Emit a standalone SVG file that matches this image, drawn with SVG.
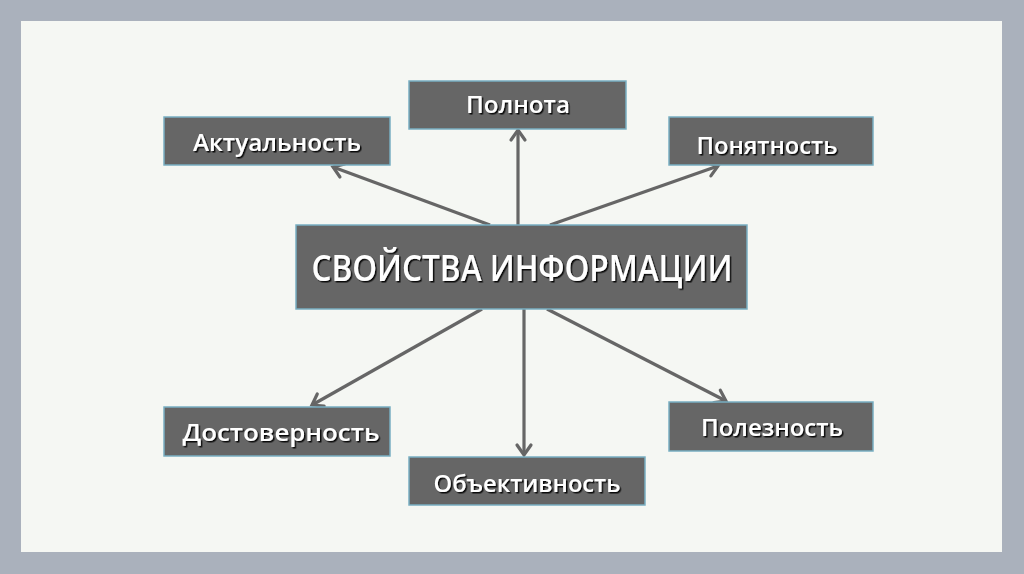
<svg xmlns="http://www.w3.org/2000/svg" width="1024" height="574" viewBox="0 0 1024 574">
  <defs>
    <style>
      .box { fill: #666666; stroke: #78afc2; stroke-width: 1.5; }
      .lbl { font-family: "Open Sans", "DejaVu Sans", sans-serif; font-weight: 600; fill: #ffffff; text-anchor: middle; filter: url(#shadow); }
      .small { font-size: 24px; }
      .big { font-size: 36px; }
      .conn { stroke: #666666; stroke-width: 3.2; fill: none; marker-end: url(#arrow); }
    </style>
    <filter id="shadow" x="-10%" y="-30%" width="120%" height="160%">
      <feDropShadow dx="1.5" dy="1.5" stdDeviation="0.6" flood-color="#000000" flood-opacity="0.9"/>
    </filter>
    <marker id="arrow" markerUnits="userSpaceOnUse" markerWidth="20" markerHeight="20" viewBox="0 0 20 20" refX="16" refY="10" orient="auto">
      <path d="M6,3 L16,10 L6,17" fill="none" stroke="#666666" stroke-width="3.2" stroke-linecap="round" stroke-linejoin="miter"/>
    </marker>
  </defs>

  <rect x="0" y="0" width="1024" height="574" fill="#aab1bc"/>
  <rect x="21" y="21" width="981" height="531" fill="#f5f7f3"/>

  <g id="connectors">
    <line class="conn" x1="518" y1="225" x2="518" y2="130"/>
    <line class="conn" x1="490" y1="225" x2="333" y2="167"/>
    <line class="conn" x1="550" y1="225" x2="718" y2="166"/>
    <line class="conn" x1="482" y1="309" x2="312" y2="405"/>
    <line class="conn" x1="524" y1="309" x2="524" y2="455"/>
    <line class="conn" x1="547" y1="309" x2="726" y2="401"/>
  </g>

  <g id="center">
    <rect class="box" x="296" y="225" width="451" height="84"/>
    <text class="lbl big" x="522" y="281" textLength="421" lengthAdjust="spacingAndGlyphs">СВОЙСТВА ИНФОРМАЦИИ</text>
  </g>

  <g id="polnota">
    <rect class="box" x="409" y="81" width="217" height="48"/>
    <text class="lbl small" x="518" y="113" textLength="104" lengthAdjust="spacingAndGlyphs">Полнота</text>
  </g>

  <g id="aktualnost">
    <rect class="box" x="164" y="117" width="226" height="48"/>
    <text class="lbl small" x="277" y="151" textLength="168" lengthAdjust="spacingAndGlyphs">Актуальность</text>
  </g>

  <g id="ponyatnost">
    <rect class="box" x="669" y="117" width="204" height="48"/>
    <text class="lbl small" x="767" y="154" textLength="141" lengthAdjust="spacingAndGlyphs">Понятность</text>
  </g>

  <g id="dostovernost">
    <rect class="box" x="164" y="407" width="226" height="49"/>
    <text class="lbl small" x="281" y="441" textLength="197" lengthAdjust="spacingAndGlyphs">Достоверность</text>
  </g>

  <g id="obektivnost">
    <rect class="box" x="409" y="457" width="236" height="48"/>
    <text class="lbl small" x="527" y="492" textLength="187" lengthAdjust="spacingAndGlyphs">Объективность</text>
  </g>

  <g id="poleznost">
    <rect class="box" x="669" y="402" width="204" height="49"/>
    <text class="lbl small" x="772" y="436" textLength="142" lengthAdjust="spacingAndGlyphs">Полезность</text>
  </g>
</svg>
